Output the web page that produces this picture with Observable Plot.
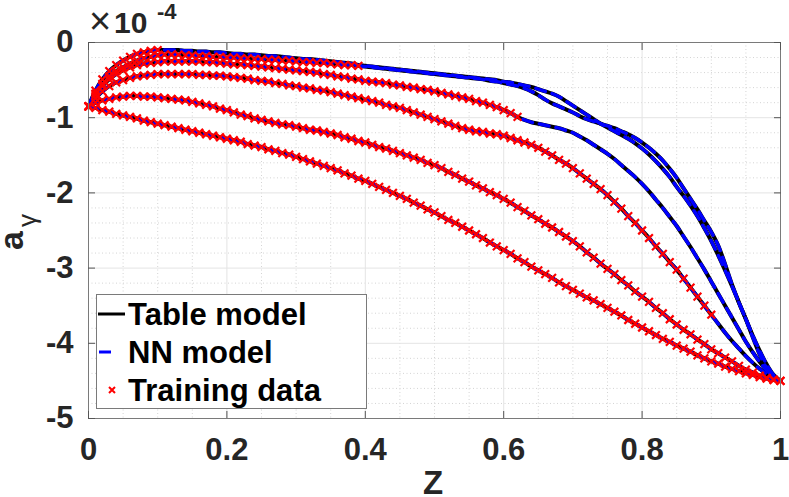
<!DOCTYPE html>
<html>
<head>
<meta charset="utf-8">
<script src="https://cdn.jsdelivr.net/npm/d3@7"></script>
<script src="https://cdn.jsdelivr.net/npm/@observablehq/plot@0.6"></script>
<style>
  html, body { margin: 0; padding: 0; background: #fff; }
  #chart { width: 789px; height: 497px; }
</style>
</head>
<body>
<div id="chart"></div>
<script>
// Z sample grid of the curves (0.00 ... 1.00)
const zGrid = d3.range(0, 101).map(i => i / 100);

// a_gamma values (x 1e-4), one list per curve
const curveA = [
  -0.85,-0.64,-0.49,-0.38,-0.30,-0.24,-0.19,-0.15,-0.13,-0.11,
  -0.10,-0.10,-0.10,-0.10,-0.11,-0.11,-0.12,-0.12,-0.13,-0.13,
  -0.14,-0.15,-0.15,-0.16,-0.16,-0.17,-0.18,-0.18,-0.19,-0.20,
  -0.21,-0.22,-0.22,-0.23,-0.24,-0.25,-0.26,-0.27,-0.28,-0.30,
  -0.31,-0.32,-0.33,-0.34,-0.35,-0.36,-0.37,-0.38,-0.39,-0.40,
  -0.41,-0.42,-0.43,-0.44,-0.45,-0.46,-0.47,-0.48,-0.49,-0.50,
  -0.52,-0.53,-0.55,-0.57,-0.59,-0.62,-0.65,-0.68,-0.72,-0.78,
  -0.84,-0.90,-0.96,-1.02,-1.08,-1.13,-1.18,-1.23,-1.28,-1.34,
  -1.41,-1.49,-1.58,-1.68,-1.79,-1.92,-2.04,-2.17,-2.31,-2.47,
  -2.64,-2.83,-3.03,-3.24,-3.46,-3.68,-3.92,-4.15,-4.33,-4.45,
  -4.50];
const curveB = [
  -0.85,-0.68,-0.55,-0.45,-0.38,-0.33,-0.28,-0.24,-0.21,-0.19,
  -0.17,-0.16,-0.16,-0.16,-0.17,-0.17,-0.18,-0.18,-0.19,-0.19,
  -0.20,-0.20,-0.21,-0.21,-0.22,-0.22,-0.23,-0.23,-0.24,-0.24,
  -0.25,-0.26,-0.26,-0.27,-0.27,-0.28,-0.29,-0.30,-0.30,-0.31,
  -0.32,-0.33,-0.34,-0.35,-0.36,-0.37,-0.38,-0.39,-0.40,-0.41,
  -0.42,-0.43,-0.44,-0.45,-0.46,-0.47,-0.48,-0.49,-0.51,-0.52,
  -0.54,-0.56,-0.58,-0.61,-0.65,-0.70,-0.76,-0.81,-0.85,-0.89,
  -0.93,-0.98,-1.02,-1.05,-1.08,-1.11,-1.14,-1.18,-1.22,-1.27,
  -1.33,-1.40,-1.48,-1.57,-1.68,-1.80,-1.94,-2.08,-2.22,-2.37,
  -2.52,-2.70,-2.95,-3.22,-3.46,-3.68,-3.90,-4.10,-4.28,-4.42,
  -4.50];
const curveC = [
  -0.85,-0.70,-0.58,-0.49,-0.42,-0.37,-0.33,-0.30,-0.28,-0.27,
  -0.26,-0.25,-0.25,-0.25,-0.25,-0.25,-0.25,-0.26,-0.26,-0.27,
  -0.28,-0.29,-0.29,-0.30,-0.31,-0.32,-0.33,-0.34,-0.35,-0.36,
  -0.37,-0.38,-0.39,-0.40,-0.42,-0.43,-0.45,-0.46,-0.48,-0.49,
  -0.51,-0.52,-0.53,-0.54,-0.56,-0.57,-0.59,-0.60,-0.62,-0.63,
  -0.65,-0.67,-0.69,-0.71,-0.73,-0.75,-0.78,-0.80,-0.83,-0.86,
  -0.90,-0.94,-0.99,-1.03,-1.06,-1.08,-1.10,-1.12,-1.14,-1.17,
  -1.20,-1.25,-1.30,-1.36,-1.42,-1.48,-1.55,-1.63,-1.71,-1.79,
  -1.88,-1.98,-2.09,-2.20,-2.32,-2.44,-2.58,-2.72,-2.87,-3.02,
  -3.18,-3.34,-3.50,-3.66,-3.82,-3.98,-4.12,-4.25,-4.36,-4.44,
  -4.50];
const curveD = [
  -0.85,-0.74,-0.65,-0.58,-0.53,-0.50,-0.47,-0.45,-0.44,-0.43,
  -0.42,-0.42,-0.42,-0.42,-0.42,-0.42,-0.43,-0.43,-0.44,-0.44,
  -0.45,-0.46,-0.47,-0.48,-0.50,-0.51,-0.52,-0.54,-0.55,-0.57,
  -0.58,-0.60,-0.61,-0.63,-0.64,-0.66,-0.68,-0.70,-0.72,-0.74,
  -0.76,-0.78,-0.80,-0.83,-0.85,-0.87,-0.90,-0.93,-0.96,-0.99,
  -1.02,-1.05,-1.08,-1.11,-1.14,-1.16,-1.18,-1.19,-1.21,-1.22,
  -1.24,-1.27,-1.30,-1.33,-1.36,-1.40,-1.45,-1.50,-1.56,-1.61,
  -1.67,-1.74,-1.81,-1.88,-1.95,-2.03,-2.12,-2.21,-2.31,-2.40,
  -2.50,-2.60,-2.71,-2.81,-2.92,-3.02,-3.14,-3.26,-3.38,-3.50,
  -3.62,-3.74,-3.86,-3.97,-4.07,-4.17,-4.26,-4.34,-4.41,-4.46,
  -4.50];
const curveE = [
  -0.85,-0.80,-0.77,-0.75,-0.73,-0.72,-0.71,-0.71,-0.72,-0.72,
  -0.73,-0.74,-0.75,-0.76,-0.77,-0.79,-0.81,-0.83,-0.85,-0.88,
  -0.90,-0.93,-0.96,-0.98,-1.01,-1.03,-1.05,-1.07,-1.09,-1.10,
  -1.12,-1.14,-1.16,-1.17,-1.19,-1.21,-1.23,-1.26,-1.28,-1.31,
  -1.33,-1.36,-1.39,-1.41,-1.44,-1.47,-1.50,-1.53,-1.56,-1.60,
  -1.63,-1.67,-1.72,-1.76,-1.81,-1.85,-1.90,-1.94,-1.99,-2.03,
  -2.08,-2.13,-2.19,-2.24,-2.30,-2.35,-2.41,-2.46,-2.52,-2.58,
  -2.64,-2.71,-2.79,-2.86,-2.94,-3.01,-3.08,-3.16,-3.23,-3.31,
  -3.38,-3.45,-3.53,-3.60,-3.68,-3.75,-3.82,-3.88,-3.95,-4.01,
  -4.08,-4.13,-4.19,-4.24,-4.30,-4.35,-4.39,-4.43,-4.46,-4.48,
  -4.50];
const curveF = [
  -0.85,-0.87,-0.90,-0.92,-0.95,-0.97,-0.99,-1.01,-1.04,-1.06,
  -1.08,-1.10,-1.12,-1.14,-1.16,-1.18,-1.20,-1.22,-1.24,-1.26,
  -1.28,-1.30,-1.32,-1.35,-1.37,-1.39,-1.42,-1.44,-1.47,-1.49,
  -1.52,-1.55,-1.58,-1.61,-1.64,-1.67,-1.70,-1.74,-1.77,-1.81,
  -1.84,-1.88,-1.92,-1.96,-2.00,-2.04,-2.08,-2.13,-2.17,-2.22,
  -2.26,-2.31,-2.36,-2.40,-2.45,-2.50,-2.55,-2.60,-2.66,-2.71,
  -2.76,-2.81,-2.87,-2.92,-2.98,-3.03,-3.08,-3.13,-3.19,-3.24,
  -3.29,-3.34,-3.39,-3.43,-3.48,-3.53,-3.58,-3.63,-3.69,-3.74,
  -3.79,-3.84,-3.89,-3.94,-3.98,-4.03,-4.07,-4.11,-4.16,-4.20,
  -4.24,-4.27,-4.31,-4.34,-4.37,-4.40,-4.42,-4.45,-4.47,-4.49,
  -4.50];

const curveNames = ["A", "B", "C", "D", "E", "F"];
const curveValues = [curveA, curveB, curveC, curveD, curveE, curveF];
// last Z at which training data markers are shown on each curve
const trainEnd = [0.10, 0.39, 0.62, 0.90, 1.00, 1.00];

const xTicks = [0, 0.2, 0.4, 0.6, 0.8, 1];
const yTicks = [-5, -4, -3, -2, -1, 0];
const xMinor = d3.range(0, 21).map(i => i / 20).filter(v => !xTicks.some(t => Math.abs(t - v) < 1e-9));
const yMinor = d3.range(0, 26).map(i => -i / 5).filter(v => !yTicks.some(t => Math.abs(t - v) < 1e-9));

const rows = curveValues.flatMap((vals, k) =>
  vals.map((v, i) => ({curve: curveNames[k], z: zGrid[i], a: v, train: zGrid[i] <= trainEnd[k] + 1e-9})));
const trainRows = rows.filter(d => d.train);

const FONT = "'Liberation Sans', Arial, Helvetica, sans-serif";

const plot = Plot.plot({
  width: 789,
  height: 497,
  marginLeft: 88,
  marginRight: 9,
  marginTop: 42,
  marginBottom: 79,
  x: {domain: [0, 1]},
  y: {domain: [-5, 0]},
  style: {fontFamily: FONT, background: "#fff", overflow: "visible"},
  marks: [
    Plot.ruleX(xMinor, {stroke: "#d4d4d4", strokeDasharray: "1,2.5", strokeWidth: 1}),
    Plot.ruleY(yMinor, {stroke: "#d4d4d4", strokeDasharray: "1,2.5", strokeWidth: 1}),
    Plot.ruleX(xTicks, {stroke: "#e4e4e4", strokeWidth: 1}),
    Plot.ruleY(yTicks, {stroke: "#e4e4e4", strokeWidth: 1}),
    Plot.line(rows, {x: "z", y: "a", z: "curve", stroke: "#000", strokeWidth: 4, curve: "catmull-rom"}),
    Plot.line(rows, {x: "z", y: "a", z: "curve", stroke: "#0000ff", strokeWidth: 3.4, strokeDasharray: "10,7", curve: "catmull-rom"}),
    Plot.dot(trainRows, {x: "z", y: "a", symbol: "times", r: 3.6, stroke: "#ff0000", strokeWidth: 2.2}),
    Plot.frame({stroke: "#7a7a7a", strokeWidth: 1}),
    Plot.axisX({anchor: "bottom", ticks: xTicks, tickSize: -7, tickPadding: 26, tickFormat: d => String(d),
      fontSize: 31, fontWeight: "bold", fill: "#262626", stroke: "#555", label: null}),
    Plot.axisX({anchor: "top", ticks: xTicks, tickSize: -7, tickFormat: () => "", stroke: "#555", label: null}),
    Plot.axisY({anchor: "left", ticks: yTicks, tickSize: -7, tickPadding: 22, tickFormat: d => String(d),
      fontSize: 31, fontWeight: "bold", fill: "#262626", stroke: "#555", label: null}),
    Plot.axisY({anchor: "right", ticks: yTicks, tickSize: -7, tickFormat: () => "", stroke: "#555", label: null})
  ]
});

document.getElementById("chart").appendChild(plot);

// annotations: axis labels, exponent, legend
const svg = d3.select(plot);
const ann = svg.append("g").attr("font-family", FONT).attr("text-anchor", "start");

// x label
ann.append("text").attr("x", 433).attr("y", 494).attr("text-anchor", "middle")
  .attr("font-size", 33).attr("font-weight", "bold").attr("fill", "#262626").text("Z");

// y label a_gamma
const yl = ann.append("text").attr("transform", "translate(23,250) rotate(-90)")
  .attr("text-anchor", "start")
  .attr("font-size", 34).attr("font-weight", "bold").attr("fill", "#262626");
yl.append("tspan").text("a");
yl.append("tspan").attr("dx", 4).attr("dy", 13).attr("font-size", 26).attr("font-weight", "normal").text("γ");

// exponent x10^-4
ann.append("text").attr("x", 89).attr("y", 34).attr("text-anchor", "start").attr("font-size", 38).attr("fill", "#262626").text("×");
ann.append("text").attr("x", 114).attr("y", 33).attr("text-anchor", "start").attr("font-size", 30).attr("font-weight", "bold").attr("fill", "#262626").text("10");
ann.append("text").attr("x", 157).attr("y", 19).attr("text-anchor", "start").attr("font-size", 22).attr("font-weight", "bold").attr("fill", "#262626").text("-4");

// legend
const lg = ann.append("g");
lg.append("rect").attr("x", 96.5).attr("y", 294.5).attr("width", 270).attr("height", 114)
  .attr("fill", "#fff").attr("stroke", "#7a7a7a").attr("stroke-width", 1);
const legendRows = ["Table model", "NN model", "Training data"];
const rowY = [314, 352, 390];
lg.append("line").attr("x1", 98).attr("x2", 125).attr("y1", rowY[0]).attr("y2", rowY[0])
  .attr("stroke", "#000").attr("stroke-width", 3);
lg.append("line").attr("x1", 99).attr("x2", 111).attr("y1", rowY[1]).attr("y2", rowY[1])
  .attr("stroke", "#0000ff").attr("stroke-width", 3);
lg.append("path").attr("transform", `translate(112,${rowY[2]})`)
  .attr("d", "M-3,-3L3,3M-3,3L3,-3").attr("stroke", "#ff0000").attr("stroke-width", 2);
legendRows.forEach((t, i) => {
  lg.append("text").attr("x", 128).attr("y", rowY[i] + 11).attr("text-anchor", "start").attr("font-size", 31)
    .attr("font-weight", "bold").attr("fill", "#000").text(t);
});
</script>
</body>
</html>
